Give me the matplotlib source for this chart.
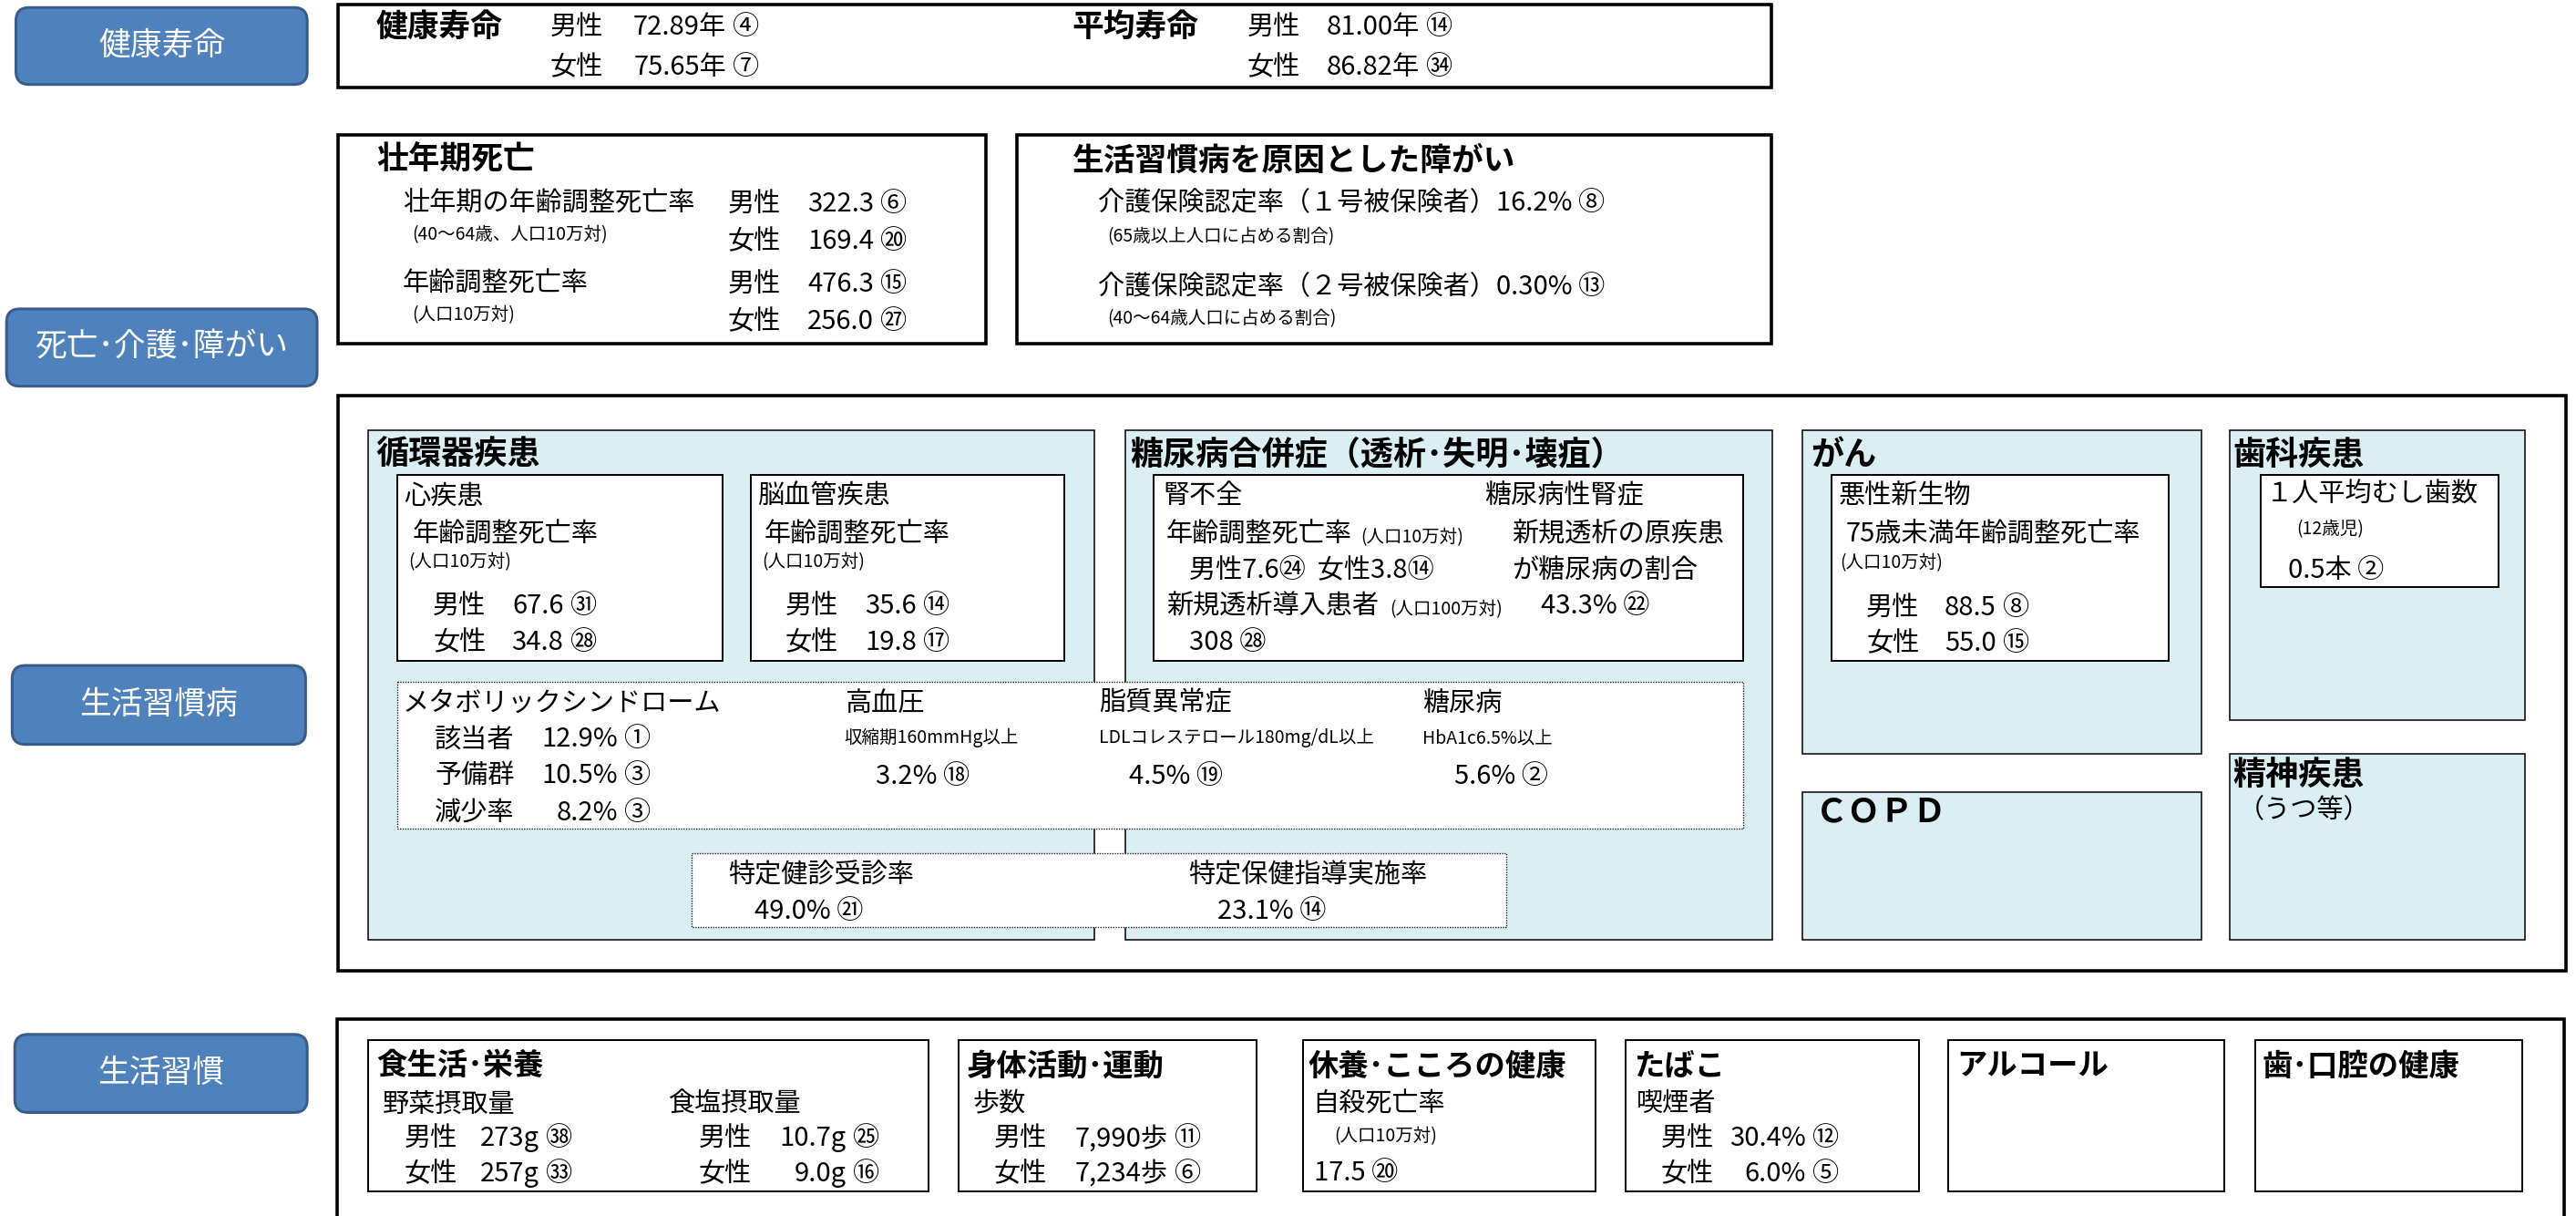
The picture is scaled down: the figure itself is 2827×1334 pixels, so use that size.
import matplotlib
matplotlib.use("Agg")
import matplotlib.pyplot as plt
from matplotlib.patches import Rectangle, FancyBboxPatch

plt.rcParams['font.family'] = ['Noto Sans CJK JP', 'DejaVu Sans']

# データ（順位は丸数字で表示）
sex = ["男性", "女性"]
side_labels = ["健康寿命", "死亡･介護･障がい", "生活習慣病", "生活習慣"]

healthy_life = [72.89, 75.65]
healthy_life_rank = [4, 7]
life_exp = [81.00, 86.82]
life_exp_rank = [14, 34]

prime_mort = [322.3, 169.4]
prime_mort_rank = [6, 20]
adj_mort = [476.3, 256.0]
adj_mort_rank = [15, 27]
care_cert = [16.2, 0.30]
care_cert_rank = [8, 13]

heart_mort = [67.6, 34.8]
heart_rank = [31, 28]
cerebro_mort = [35.6, 19.8]
cerebro_rank = [14, 17]
renal_mort = [7.6, 3.8]
renal_rank = [24, 14]
dialysis_new = 308
dialysis_rank = 28
nephro_share = 43.3
nephro_rank = 22

metabo_labels = ["該当者", "予備群", "減少率"]
metabo_values = [12.9, 10.5, 8.2]
metabo_rank = [1, 3, 3]
risk_names = ["高血圧", "脂質異常症", "糖尿病"]
risk_criteria = ["収縮期160mmHg以上", "LDLコレステロール180mg/dL以上", "HbA1c6.5%以上"]
risk_values = [3.2, 4.5, 5.6]
risk_rank = [18, 19, 2]
checkup_names = ["特定健診受診率", "特定保健指導実施率"]
checkup_values = [49.0, 23.1]
checkup_rank = [21, 14]

cancer_mort = [88.5, 55.0]
cancer_rank = [8, 15]
caries = 0.5
caries_rank = 2

veg_intake = [273, 257]
veg_rank = [38, 33]
salt_intake = [10.7, 9.0]
salt_rank = [25, 16]
steps = [7990, 7234]
steps_rank = [11, 6]
suicide = 17.5
suicide_rank = 20
smoking = [30.4, 6.0]
smoking_rank = [12, 5]

BASE = 21
SMALL = 14
TITLE = 25
PANEL = 26
LIFE = 24
SIDE = 25
PANEL_BG = '#DBEEF4'


def circ(n):
    if n <= 20:
        return chr(0x2460 + n - 1)
    if n <= 35:
        return chr(0x3251 + n - 21)
    return chr(0x32B1 + n - 36)


fig = plt.figure(figsize=(28.27, 13.34), dpi=100)
ax = fig.add_axes([0, 0, 1, 1])
ax.set_xlim(0, 1568)
ax.set_ylim(740, 0)
ax.axis('off')


def box(x0, y0, x1, y1, lw=1.4, fc='white', ls='-', ec='black', z=1):
    ax.add_patch(Rectangle((x0, y0), x1 - x0, y1 - y0, lw=lw, fc=fc, ec=ec,
                           ls=ls, zorder=z, joinstyle='miter'))


def t(x, y, s, size=BASE, bold=False, ha='left', color='black'):
    ax.text(x, y, s, fontsize=size, fontweight='bold' if bold else 'normal',
            ha=ha, va='center', color=color, zorder=10)


def row(xl, xr, y, label, num, rank, size=BASE):
    t(xl, y, label, size)
    t(xr, y, num, size, ha='right')
    t(xr + 4, y, circ(rank), size)


# 左の青いラベル
side_pos = [(9.7, 4.6, 187, 51.4), (4, 188, 193, 235), (7.4, 405, 186, 453), (9, 629.5, 187, 677)]
for lab, (x0, y0, x1, y1) in zip(side_labels, side_pos):
    ax.add_patch(FancyBboxPatch((x0, y0), x1 - x0, y1 - y0,
                                boxstyle="round,pad=0,rounding_size=8",
                                fc='#4F81BD', ec='#385D8A', lw=2.2, zorder=2))
    t((x0 + x1) / 2, (y0 + y1) / 2, lab, SIDE, ha='center', color='white')

# 健康寿命
box(206, 3, 1078, 53, lw=2.6)
t(229, 16.5, "健康寿命", TITLE, bold=True)
for i in range(2):
    row(335, 442, 16.5 + 24.5 * i, sex[i], f"{healthy_life[i]:.2f}年", healthy_life_rank[i])
t(652.6, 16.5, "平均寿命", TITLE, bold=True)
for i in range(2):
    row(759, 864, 16.5 + 24.5 * i, sex[i], f"{life_exp[i]:.2f}年", life_exp_rank[i])

# 壮年期死亡
box(206, 82, 600, 209, lw=2.6)
t(229, 97, "壮年期死亡", TITLE, bold=True)
t(245, 124, "壮年期の年齢調整死亡率")
t(251, 143, "(40～64歳、人口10万対)", SMALL)
row(443, 532, 124, sex[0], f"{prime_mort[0]:.1f}", prime_mort_rank[0])
row(443, 532, 147, sex[1], f"{prime_mort[1]:.1f}", prime_mort_rank[1])
t(245, 173, "年齢調整死亡率")
t(251, 192, "(人口10万対)", SMALL)
row(443, 532, 173, sex[0], f"{adj_mort[0]:.1f}", adj_mort_rank[0])
row(443, 532, 196, sex[1], f"{adj_mort[1]:.1f}", adj_mort_rank[1])

# 生活習慣病を原因とした障がい
box(619, 82, 1078, 209, lw=2.6)
t(652.6, 98, "生活習慣病を原因とした障がい", TITLE, bold=True)
t(668.5, 124, f"介護保険認定率（１号被保険者）{care_cert[0]:.1f}% {circ(care_cert_rank[0])}")
t(674, 144, "(65歳以上人口に占める割合)", SMALL)
t(668.5, 174.7, f"介護保険認定率（２号被保険者）{care_cert[1]:.2f}% {circ(care_cert_rank[1])}")
t(674, 194, "(40～64歳人口に占める割合)", SMALL)

# 生活習慣病
box(206, 241, 1562, 591, lw=2.6)
for (x0, y0, x1, y1) in [(224, 262, 666, 572), (685, 262, 1079, 572), (1097, 262, 1340, 459),
                         (1357, 262, 1537, 438), (1097, 482, 1340, 572), (1357, 459, 1537, 572)]:
    box(x0, y0, x1, y1, lw=1.1, fc=PANEL_BG, z=2)

t(229, 277, "循環器疾患", PANEL, bold=True)
box(242, 289, 440, 402, z=3)
t(246, 302, "心疾患")
t(251, 325.5, "年齢調整死亡率")
t(248.5, 342, "(人口10万対)", SMALL)
for i in range(2):
    row(263.5, 343, 369 + 22 * i, sex[i], f"{heart_mort[i]:.1f}", heart_rank[i])
box(457, 289, 648, 402, z=3)
t(461, 302, "脳血管疾患")
t(465, 325.5, "年齢調整死亡率")
t(464, 342, "(人口10万対)", SMALL)
for i in range(2):
    row(478, 558, 369 + 22 * i, sex[i], f"{cerebro_mort[i]:.1f}", cerebro_rank[i])

t(688, 277, "糖尿病合併症（透析･失明･壊疽）", PANEL, bold=True)
box(702, 289, 1061, 402, z=3)
t(708, 302, "腎不全")
t(903.5, 302, "糖尿病性腎症")
t(710, 325.5, "年齢調整死亡率")
t(828, 327, "(人口10万対)", SMALL)
t(920, 325.5, "新規透析の原疾患")
t(724, 347.5, f"{sex[0]}{renal_mort[0]:.1f}{circ(renal_rank[0])}  {sex[1]}{renal_mort[1]:.1f}{circ(renal_rank[1])}")
t(920, 347.5, "が糖尿病の割合")
t(710, 369, "新規透析導入患者")
t(846, 371, "(人口100万対)", SMALL)
t(938, 369, f"{nephro_share:.1f}% {circ(nephro_rank)}")
t(724, 391, f"{dialysis_new} {circ(dialysis_rank)}")

# メタボ・リスク因子
box(242, 415, 1061, 504, lw=1.0, ls=(0, (1.0, 1.0)), ec='#222222', z=4)
t(245, 428, "メタボリックシンドローム")
for i in range(3):
    row(264.6, 376, 450 + 22.3 * i, metabo_labels[i], f"{metabo_values[i]:.1f}%", metabo_rank[i])
risk_x = [514, 669, 866]
risk_vx = [533, 687, 885]
for i in range(3):
    t(risk_x[i], 428, risk_names[i])
    t(risk_x[i], 449, risk_criteria[i], SMALL)
    t(risk_vx[i], 472.5, f"{risk_values[i]:.1f}% {circ(risk_rank[i])}")

box(421, 519, 917, 564, lw=1.0, ls=(0, (1.0, 1.0)), ec='#222222', z=4)
check_x = [443, 723.5]
check_vx = [459, 741]
for i in range(2):
    t(check_x[i], 532.5, checkup_names[i])
    t(check_vx[i], 554.6, f"{checkup_values[i]:.1f}% {circ(checkup_rank[i])}")

t(1102, 277, "がん", PANEL, bold=True)
box(1115, 289, 1320, 402, z=3)
t(1119, 302, "悪性新生物")
t(1123.5, 325.7, "75歳未満年齢調整死亡率")
t(1120, 342.7, "(人口10万対)", SMALL)
for i in range(2):
    row(1136, 1215, 370 + 21.5 * i, sex[i], f"{cancer_mort[i]:.1f}", cancer_rank[i])

t(1359, 277, "歯科疾患", PANEL, bold=True)
box(1376, 289, 1521, 357, z=3)
t(1379.5, 301, "１人平均むし歯数")
t(1398, 322, "(12歳児)", SMALL)
t(1393, 347, f"{caries:.1f}本 {circ(caries_rank)}")

t(1105, 494, "ＣＯＰＤ", PANEL, bold=True)
t(1359, 472, "精神疾患", PANEL, bold=True)
t(1362, 493, "（うつ等）")

# 生活習慣
box(205, 620, 1561, 760, lw=2.6)
for (x0, x1) in [(224, 565), (583.5, 765), (793, 971), (989.5, 1168), (1186, 1354), (1373, 1535)]:
    box(x0, 633, x1, 725, lw=1.4, z=2)

t(229, 649, "食生活･栄養", LIFE, bold=True)
t(233, 672, "野菜摂取量")
t(407, 672, "食塩摂取量")
for i in range(2):
    row(246, 328, 693 + 21.5 * i, sex[i], f"{veg_intake[i]}g", veg_rank[i])
    row(425, 515, 693 + 21.5 * i, sex[i], f"{salt_intake[i]:.1f}g", salt_rank[i])

t(588.5, 649, "身体活動･運動", LIFE, bold=True)
t(592, 672, "歩数")
for i in range(2):
    row(605, 711, 693 + 21.5 * i, sex[i], f"{steps[i]:,}歩", steps_rank[i])

t(796.5, 649, "休養･こころの健康", LIFE, bold=True)
t(799, 672, "自殺死亡率")
t(812, 691.5, "(人口10万対)", SMALL)
t(800, 714, f"{suicide:.1f} {circ(suicide_rank)}")

t(994.5, 649, "たばこ", LIFE, bold=True)
t(996, 672, "喫煙者")
for i in range(2):
    row(1011, 1099, 693 + 21.5 * i, sex[i], f"{smoking[i]:.1f}%", smoking_rank[i])

t(1191, 649, "アルコール", LIFE, bold=True)
t(1377, 649, "歯･口腔の健康", LIFE, bold=True)

fig.savefig("out.png", dpi=100)
